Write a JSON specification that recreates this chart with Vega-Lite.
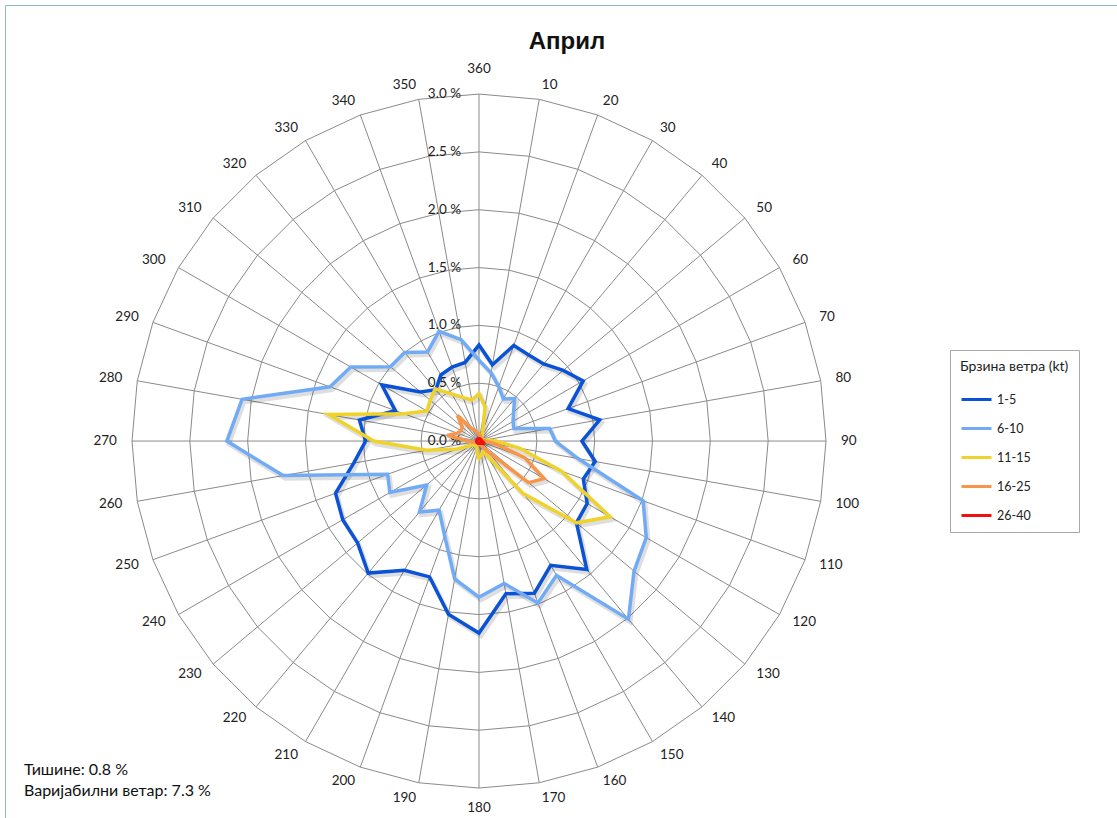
{
  "$schema": "https://vega.github.io/schema/vega-lite/v6.json",
  "width": 1112,
  "height": 813,
  "padding": {"left": 5, "top": 5, "right": 0, "bottom": 0},
  "autosize": {"type": "none"},
  "background": "white",
  "view": {"stroke": "#8DBBC8", "strokeWidth": 1},
  "config": {"font": "Lato"},
  "datasets": {
    "wind": [
      {"d": 10, "1-5": 0.67, "6-10": 0.60, "11-15": 0.30, "16-25": 0.05, "26-40": 0.02},
      {"d": 20, "1-5": 0.88, "6-10": 0.50, "11-15": 0.10, "16-25": 0.04, "26-40": 0.02},
      {"d": 30, "1-5": 0.86, "6-10": 0.42, "11-15": 0.05, "16-25": 0.03, "26-40": 0.02},
      {"d": 40, "1-5": 0.87, "6-10": 0.48, "11-15": 0.04, "16-25": 0.03, "26-40": 0.02},
      {"d": 50, "1-5": 0.95, "6-10": 0.39, "11-15": 0.03, "16-25": 0.02, "26-40": 0.02},
      {"d": 60, "1-5": 1.04, "6-10": 0.34, "11-15": 0.03, "16-25": 0.02, "26-40": 0.02},
      {"d": 70, "1-5": 0.82, "6-10": 0.32, "11-15": 0.03, "16-25": 0.02, "26-40": 0.02},
      {"d": 80, "1-5": 1.06, "6-10": 0.62, "11-15": 0.05, "16-25": 0.03, "26-40": 0.02},
      {"d": 90, "1-5": 0.89, "6-10": 0.66, "11-15": 0.15, "16-25": 0.05, "26-40": 0.02},
      {"d": 100, "1-5": 1.02, "6-10": 0.87, "11-15": 0.36, "16-25": 0.15, "26-40": 0.03},
      {"d": 110, "1-5": 0.96, "6-10": 1.51, "11-15": 0.76, "16-25": 0.42, "26-40": 0.04},
      {"d": 120, "1-5": 1.08, "6-10": 1.67, "11-15": 1.31, "16-25": 0.65, "26-40": 0.04},
      {"d": 130, "1-5": 1.10, "6-10": 1.75, "11-15": 1.10, "16-25": 0.56, "26-40": 0.03},
      {"d": 140, "1-5": 1.45, "6-10": 2.01, "11-15": 0.59, "16-25": 0.12, "26-40": 0.02},
      {"d": 150, "1-5": 1.24, "6-10": 1.34, "11-15": 0.15, "16-25": 0.05, "26-40": 0.02},
      {"d": 160, "1-5": 1.40, "6-10": 1.49, "11-15": 0.10, "16-25": 0.03, "26-40": 0.02},
      {"d": 170, "1-5": 1.34, "6-10": 1.25, "11-15": 0.12, "16-25": 0.03, "26-40": 0.02},
      {"d": 180, "1-5": 1.66, "6-10": 1.35, "11-15": 0.15, "16-25": 0.03, "26-40": 0.02},
      {"d": 190, "1-5": 1.52, "6-10": 1.21, "11-15": 0.10, "16-25": 0.02, "26-40": 0.02},
      {"d": 200, "1-5": 1.25, "6-10": 0.87, "11-15": 0.05, "16-25": 0.02, "26-40": 0.02},
      {"d": 210, "1-5": 1.29, "6-10": 0.69, "11-15": 0.05, "16-25": 0.02, "26-40": 0.02},
      {"d": 220, "1-5": 1.49, "6-10": 0.80, "11-15": 0.05, "16-25": 0.02, "26-40": 0.02},
      {"d": 230, "1-5": 1.37, "6-10": 0.59, "11-15": 0.05, "16-25": 0.02, "26-40": 0.02},
      {"d": 240, "1-5": 1.36, "6-10": 0.89, "11-15": 0.07, "16-25": 0.02, "26-40": 0.02},
      {"d": 250, "1-5": 1.32, "6-10": 0.84, "11-15": 0.20, "16-25": 0.03, "26-40": 0.02},
      {"d": 260, "1-5": 1.10, "6-10": 1.72, "11-15": 0.46, "16-25": 0.05, "26-40": 0.02},
      {"d": 270, "1-5": 0.98, "6-10": 2.18, "11-15": 0.91, "16-25": 0.10, "26-40": 0.02},
      {"d": 280, "1-5": 1.05, "6-10": 2.08, "11-15": 1.32, "16-25": 0.28, "26-40": 0.02},
      {"d": 290, "1-5": 0.77, "6-10": 1.37, "11-15": 0.69, "16-25": 0.20, "26-40": 0.02},
      {"d": 300, "1-5": 0.97, "6-10": 1.28, "11-15": 0.52, "16-25": 0.18, "26-40": 0.02},
      {"d": 310, "1-5": 0.66, "6-10": 1.00, "11-15": 0.55, "16-25": 0.19, "26-40": 0.02},
      {"d": 320, "1-5": 0.58, "6-10": 1.00, "11-15": 0.59, "16-25": 0.29, "26-40": 0.02},
      {"d": 330, "1-5": 0.66, "6-10": 0.89, "11-15": 0.47, "16-25": 0.12, "26-40": 0.02},
      {"d": 340, "1-5": 0.68, "6-10": 1.01, "11-15": 0.40, "16-25": 0.10, "26-40": 0.02},
      {"d": 350, "1-5": 0.69, "6-10": 0.89, "11-15": 0.36, "16-25": 0.07, "26-40": 0.02},
      {"d": 360, "1-5": 0.83, "6-10": 0.70, "11-15": 0.41, "16-25": 0.06, "26-40": 0.02}
    ],
    "grid": [
      {"r": 0.5, "ds": [10,20,30,40,50,60,70,80,90,100,110,120,130,140,150,160,170,180,190,200,210,220,230,240,250,260,270,280,290,300,310,320,330,340,350,360]},
      {"r": 1.0, "ds": [10,20,30,40,50,60,70,80,90,100,110,120,130,140,150,160,170,180,190,200,210,220,230,240,250,260,270,280,290,300,310,320,330,340,350,360]},
      {"r": 1.5, "ds": [10,20,30,40,50,60,70,80,90,100,110,120,130,140,150,160,170,180,190,200,210,220,230,240,250,260,270,280,290,300,310,320,330,340,350,360]},
      {"r": 2.0, "ds": [10,20,30,40,50,60,70,80,90,100,110,120,130,140,150,160,170,180,190,200,210,220,230,240,250,260,270,280,290,300,310,320,330,340,350,360]},
      {"r": 2.5, "ds": [10,20,30,40,50,60,70,80,90,100,110,120,130,140,150,160,170,180,190,200,210,220,230,240,250,260,270,280,290,300,310,320,330,340,350,360]},
      {"r": 3.0, "ds": [10,20,30,40,50,60,70,80,90,100,110,120,130,140,150,160,170,180,190,200,210,220,230,240,250,260,270,280,290,300,310,320,330,340,350,360]}
    ],
    "ticks": [
      {"r": 0.0, "t": "0.0 %"},
      {"r": 0.5, "t": "0.5 %"},
      {"r": 1.0, "t": "1.0 %"},
      {"r": 1.5, "t": "1.5 %"},
      {"r": 2.0, "t": "2.0 %"},
      {"r": 2.5, "t": "2.5 %"},
      {"r": 3.0, "t": "3.0 %"}
    ],
    "titles": [{"t": "Април"}],
    "notes": [
      {"t": "Тишине:  0.8 %", "k": 1},
      {"t": "Варијабилни ветар: 7.3 %", "k": 2}
    ]
  },
  "layer": [
    {
      "data": {"name": "grid"},
      "transform": [
        {"flatten": ["ds"], "as": ["d"]},
        {"calculate": "datum.r * sin(datum.d * PI / 180)", "as": "gx"},
        {"calculate": "datum.r * cos(datum.d * PI / 180)", "as": "gy"}
      ],
      "mark": {"type": "line", "interpolate": "linear-closed", "stroke": "#8a8a8a", "strokeWidth": 1},
      "encoding": {
        "x": {"field": "gx", "type": "quantitative", "scale": {"domain": [-4.098, 5.516], "nice": false, "zero": false}, "axis": null},
        "y": {"field": "gy", "type": "quantitative", "scale": {"domain": [-3.259, 3.770], "nice": false, "zero": false}, "axis": null},
        "detail": {"field": "r", "type": "nominal"},
        "order": {"field": "d", "type": "quantitative"}
      }
    },
    {
      "data": {"name": "grid"},
      "transform": [
        {"flatten": ["ds"], "as": ["d"]},
        {"filter": "datum.r == 3"},
        {"calculate": "datum.r * sin(datum.d * PI / 180)", "as": "gx"},
        {"calculate": "datum.r * cos(datum.d * PI / 180)", "as": "gy"},
        {"calculate": "0", "as": "o"}
      ],
      "mark": {"type": "rule", "stroke": "#8a8a8a", "strokeWidth": 1},
      "encoding": {
        "x": {"field": "o", "type": "quantitative"},
        "y": {"field": "o", "type": "quantitative"},
        "x2": {"field": "gx"},
        "y2": {"field": "gy"}
      }
    },
    {
      "data": {"name": "grid"},
      "transform": [
        {"flatten": ["ds"], "as": ["d"]},
        {"filter": "datum.r == 3 && datum.d > 0 && datum.d < 180"},
        {"calculate": "3.13 * sin(datum.d * PI / 180)", "as": "lx"},
        {"calculate": "3.13 * cos(datum.d * PI / 180)", "as": "ly"}
      ],
      "mark": {"type": "text", "fontSize": 13.5, "fill": "#222", "align": "left", "baseline": "middle"},
      "encoding": {
        "x": {"field": "lx", "type": "quantitative"},
        "y": {"field": "ly", "type": "quantitative"},
        "text": {"field": "d", "type": "quantitative", "format": "d"}
      }
    },
    {
      "data": {"name": "grid"},
      "transform": [
        {"flatten": ["ds"], "as": ["d"]},
        {"filter": "datum.r == 3 && datum.d > 180 && datum.d < 360"},
        {"calculate": "3.13 * sin(datum.d * PI / 180)", "as": "lx"},
        {"calculate": "3.13 * cos(datum.d * PI / 180)", "as": "ly"}
      ],
      "mark": {"type": "text", "fontSize": 13.5, "fill": "#222", "align": "right", "baseline": "middle"},
      "encoding": {
        "x": {"field": "lx", "type": "quantitative"},
        "y": {"field": "ly", "type": "quantitative"},
        "text": {"field": "d", "type": "quantitative", "format": "d"}
      }
    },
    {
      "data": {"name": "grid"},
      "transform": [
        {"flatten": ["ds"], "as": ["d"]},
        {"filter": "datum.r == 3 && datum.d == 360"},
        {"calculate": "3.215 * sin(datum.d * PI / 180)", "as": "lx"},
        {"calculate": "3.215 * cos(datum.d * PI / 180)", "as": "ly"}
      ],
      "mark": {"type": "text", "fontSize": 13.5, "fill": "#222", "align": "center", "baseline": "middle"},
      "encoding": {
        "x": {"field": "lx", "type": "quantitative"},
        "y": {"field": "ly", "type": "quantitative"},
        "text": {"field": "d", "type": "quantitative", "format": "d"}
      }
    },
    {
      "data": {"name": "grid"},
      "transform": [
        {"flatten": ["ds"], "as": ["d"]},
        {"filter": "datum.r == 3 && datum.d == 180"},
        {"calculate": "3.17 * sin(datum.d * PI / 180)", "as": "lx"},
        {"calculate": "3.17 * cos(datum.d * PI / 180)", "as": "ly"}
      ],
      "mark": {"type": "text", "fontSize": 13.5, "fill": "#222", "align": "center", "baseline": "middle"},
      "encoding": {
        "x": {"field": "lx", "type": "quantitative"},
        "y": {"field": "ly", "type": "quantitative"},
        "text": {"field": "d", "type": "quantitative", "format": "d"}
      }
    },
    {
      "data": {"name": "ticks"},
      "transform": [{"calculate": "0", "as": "o"}],
      "mark": {"type": "text", "fontSize": 13.5, "fill": "#222", "align": "right", "baseline": "middle", "dx": -18},
      "encoding": {
        "x": {"field": "o", "type": "quantitative"},
        "y": {"field": "r", "type": "quantitative"},
        "text": {"field": "t", "type": "nominal"}
      }
    },
    {
      "data": {"name": "wind"},
      "transform": [
        {"fold": ["1-5", "6-10", "11-15", "16-25", "26-40"], "as": ["series", "v"]},
        {"calculate": "datum.v * sin(datum.d * PI / 180)", "as": "px"},
        {"calculate": "datum.v * cos(datum.d * PI / 180)", "as": "py"}
      ],
      "mark": {"type": "line", "interpolate": "linear-closed", "stroke": "#000", "strokeOpacity": 0.13, "strokeWidth": 4.5, "xOffset": 2, "yOffset": 3},
      "encoding": {
        "x": {"field": "px", "type": "quantitative"},
        "y": {"field": "py", "type": "quantitative"},
        "detail": {"field": "series", "type": "nominal"},
        "order": {"field": "d", "type": "quantitative"}
      }
    },
    {
      "data": {"name": "wind"},
      "transform": [
        {"fold": ["1-5", "6-10", "11-15", "16-25", "26-40"], "as": ["series", "v"]},
        {"calculate": "datum.v * sin(datum.d * PI / 180)", "as": "px"},
        {"calculate": "datum.v * cos(datum.d * PI / 180)", "as": "py"}
      ],
      "mark": {"type": "line", "interpolate": "linear-closed", "strokeWidth": 3.5},
      "encoding": {
        "x": {"field": "px", "type": "quantitative"},
        "y": {"field": "py", "type": "quantitative"},
        "color": {
          "field": "series",
          "type": "nominal",
          "scale": {"domain": ["1-5", "6-10", "11-15", "16-25", "26-40"], "range": ["#0A52D6", "#71ABF5", "#EFD32C", "#F7964A", "#F01010"]},
          "legend": {
            "title": "Брзина ветра (kt)",
            "orient": "none",
            "legendX": 945,
            "legendY": 345,
            "symbolType": "stroke",
            "symbolSize": 900,
            "symbolStrokeWidth": 3,
            "labelFontSize": 12.5,
            "labelColor": "#222",
            "titleFontSize": 14,
            "titleFontWeight": "normal",
            "titleColor": "#222",
            "titlePadding": 9,
            "rowPadding": 6,
            "padding": 10,
            "strokeColor": "#aaa",
            "fillColor": "white"
          }
        },
        "order": {"field": "d", "type": "quantitative"}
      }
    },
    {
      "data": {"name": "titles"},
      "transform": [{"calculate": "0.761", "as": "tx"}, {"calculate": "3.45", "as": "ty"}],
      "mark": {"type": "text", "font": "Liberation Sans", "fontSize": 24, "fontWeight": "bold", "fill": "#111", "align": "center", "baseline": "middle"},
      "encoding": {
        "x": {"field": "tx", "type": "quantitative"},
        "y": {"field": "ty", "type": "quantitative"},
        "text": {"field": "t", "type": "nominal"}
      }
    },
    {
      "data": {"name": "notes"},
      "transform": [{"calculate": "-3.934", "as": "nx"}, {"calculate": "-2.844 - (datum.k - 1) * 0.182", "as": "ny"}],
      "mark": {"type": "text", "fontSize": 16, "fill": "#111", "align": "left", "baseline": "middle"},
      "encoding": {
        "x": {"field": "nx", "type": "quantitative"},
        "y": {"field": "ny", "type": "quantitative"},
        "text": {"field": "t", "type": "nominal"}
      }
    }
  ]
}
